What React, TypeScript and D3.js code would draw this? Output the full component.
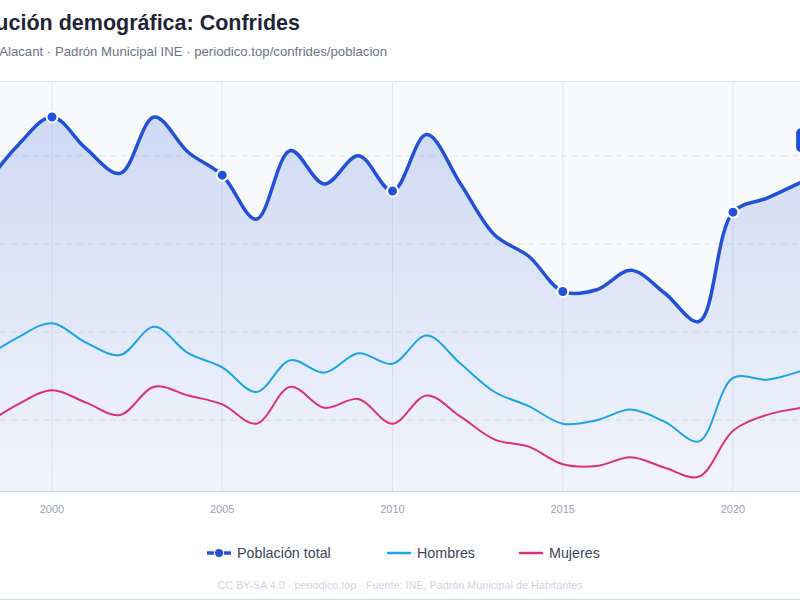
import * as d3 from "d3";
import React, { useEffect, useRef } from "react";

// Padrón municipal, Confrides
const years = [
  1998, 1999, 2000, 2001, 2002, 2003, 2004, 2005, 2006, 2007, 2008, 2009, 2010,
  2011, 2012, 2013, 2014, 2015, 2016, 2017, 2018, 2019, 2020, 2021, 2022,
];
const hombres = [
  135, 147, 155, 144, 137, 153, 138, 130, 116, 134, 127, 138, 132, 148, 132,
  116, 108, 98, 100, 106, 99, 88, 124, 123, 128,
];
const mujeres = [
  97, 109, 117, 110, 103, 119, 114, 109, 98, 119, 107, 112, 98, 114, 102, 89,
  85, 75, 74, 79, 73, 68, 94, 103, 107,
];
const total = [
  232, 256, 272, 254, 240, 272, 252, 239, 214, 253, 234, 250, 230, 262, 234,
  205, 193, 173, 174, 185, 172, 156, 218, 226, 235,
];
const xTicks = [2000, 2005, 2010, 2015, 2020];
const yTicks = [100, 150, 200, 250];

const BLUE = "#2250d6";
const CYAN = "#1ba4e4";
const PINK = "#d9317a";
const FONT = "'Liberation Sans', Arial, sans-serif";

const App: React.FC = () => {
  const svgRef = useRef<SVGSVGElement | null>(null);

  useEffect(() => {
    const width = 800;
    const height = 600;
    const top = 81;
    const bottom = 491;

    const svg = d3.select(svgRef.current);
    svg.selectAll("*").remove();
    svg.attr("width", width).attr("height", height);

    svg.append("rect").attr("width", width).attr("height", height).attr("fill", "#ffffff");

    const x = d3.scaleLinear().domain([2000, 2020]).range([52, 733]);
    const yMin = d3.min(mujeres)! * 0.88;
    const yMax = d3.max(total)! * 1.075;
    const y = d3.scaleLinear().domain([yMin, yMax]).range([bottom, top]);

    // plot background
    svg
      .append("rect")
      .attr("x", 0)
      .attr("y", top)
      .attr("width", width)
      .attr("height", bottom - top)
      .attr("fill", "#f8f9fc");
    svg
      .append("line")
      .attr("x1", 0)
      .attr("x2", width)
      .attr("y1", top + 0.5)
      .attr("y2", top + 0.5)
      .attr("stroke", "#d8dee8");

    const defs = svg.append("defs");
    const grad = defs
      .append("linearGradient")
      .attr("id", "areaGrad")
      .attr("gradientUnits", "userSpaceOnUse")
      .attr("x1", 0)
      .attr("x2", 0)
      .attr("y1", top)
      .attr("y2", bottom);
    grad.append("stop").attr("offset", "0%").attr("stop-color", BLUE).attr("stop-opacity", 0.2);
    grad.append("stop").attr("offset", "100%").attr("stop-color", BLUE).attr("stop-opacity", 0.03);

    // vertical grid
    svg
      .append("g")
      .selectAll("line")
      .data(xTicks)
      .enter()
      .append("line")
      .attr("x1", (d) => x(d))
      .attr("x2", (d) => x(d))
      .attr("y1", top)
      .attr("y2", bottom)
      .attr("stroke", "#e3e7ee")
      .attr("stroke-width", 1);

    // horizontal dashed grid
    svg
      .append("g")
      .selectAll("line")
      .data(yTicks)
      .enter()
      .append("line")
      .attr("x1", 0)
      .attr("x2", width)
      .attr("y1", (d) => y(d))
      .attr("y2", (d) => y(d))
      .attr("stroke", "#dde2ea")
      .attr("stroke-dasharray", "6,5");

    const curve = d3.curveCatmullRom.alpha(0.5);
    const pts = (vals: number[]) => years.map((yr, i) => [yr, vals[i]] as [number, number]);

    const area = d3
      .area<[number, number]>()
      .x((d) => x(d[0]))
      .y0(bottom)
      .y1((d) => y(d[1]))
      .curve(curve);
    const line = d3
      .line<[number, number]>()
      .x((d) => x(d[0]))
      .y((d) => y(d[1]))
      .curve(curve);

    svg.append("path").attr("d", area(pts(total))!).attr("fill", "url(#areaGrad)");

    svg
      .append("path")
      .attr("d", line(pts(hombres))!)
      .attr("fill", "none")
      .attr("stroke", CYAN)
      .attr("stroke-width", 2);
    svg
      .append("path")
      .attr("d", line(pts(mujeres))!)
      .attr("fill", "none")
      .attr("stroke", PINK)
      .attr("stroke-width", 2);
    svg
      .append("path")
      .attr("d", line(pts(total))!)
      .attr("fill", "none")
      .attr("stroke", BLUE)
      .attr("stroke-width", 3.5)
      .attr("stroke-linejoin", "round");

    // markers every five years
    svg
      .append("g")
      .selectAll("circle")
      .data(years.map((yr, i) => ({ yr, v: total[i] })).filter((d) => d.yr % 5 === 0))
      .enter()
      .append("circle")
      .attr("cx", (d) => x(d.yr))
      .attr("cy", (d) => y(d.v))
      .attr("r", 5.5)
      .attr("fill", BLUE)
      .attr("stroke", "#ffffff")
      .attr("stroke-width", 2);

    // last value badge
    const lastYr = years[years.length - 1];
    const lastV = total[total.length - 1];
    const badge = svg
      .append("g")
      .attr("transform", `translate(${x(lastYr) - 5}, ${y(lastV) - 54})`);
    badge.append("rect").attr("width", 56).attr("height", 24).attr("rx", 5).attr("fill", BLUE);
    badge
      .append("text")
      .attr("x", 28)
      .attr("y", 16.5)
      .attr("text-anchor", "middle")
      .attr("font-family", FONT)
      .attr("font-size", "13px")
      .attr("font-weight", "bold")
      .attr("fill", "#ffffff")
      .text(lastV);

    // x axis
    svg
      .append("line")
      .attr("x1", 0)
      .attr("x2", width)
      .attr("y1", bottom + 0.5)
      .attr("y2", bottom + 0.5)
      .attr("stroke", "#cfd6e0");
    svg
      .append("g")
      .selectAll("text")
      .data(xTicks)
      .enter()
      .append("text")
      .attr("x", (d) => x(d))
      .attr("y", bottom + 22)
      .attr("text-anchor", "middle")
      .attr("font-family", FONT)
      .attr("font-size", "11px")
      .attr("fill", "#98a2b3")
      .text((d) => d);

    // title + subtitle
    svg
      .append("text")
      .attr("x", 300)
      .attr("y", 30)
      .attr("text-anchor", "end")
      .attr("font-family", FONT)
      .attr("font-size", "21.5px")
      .attr("font-weight", "bold")
      .attr("fill", "#1e2537")
      .text("Evolución demográfica: Confrides");
    svg
      .append("text")
      .attr("x", 387)
      .attr("y", 56)
      .attr("text-anchor", "end")
      .attr("font-family", FONT)
      .attr("font-size", "13.2px")
      .attr("fill", "#6b7385")
      .text("Marina Baixa, Alacant · Padrón Municipal INE · periodico.top/confrides/poblacion");

    // legend
    const legendY = 553;
    const legend = svg.append("g").attr("font-family", FONT).attr("font-size", "14.3px");
    const lt = legend.append("g").attr("transform", `translate(207, ${legendY})`);
    lt.append("line").attr("x1", 0).attr("x2", 7).attr("stroke", BLUE).attr("stroke-width", 3.5);
    lt.append("line").attr("x1", 17).attr("x2", 24).attr("stroke", BLUE).attr("stroke-width", 3.5);
    lt.append("circle").attr("cx", 12).attr("r", 4).attr("fill", BLUE);
    lt.append("text").attr("x", 30).attr("y", 5).attr("fill", "#3d4556").text("Población total");

    const lh = legend.append("g").attr("transform", `translate(387, ${legendY})`);
    lh.append("line").attr("x1", 0).attr("x2", 24).attr("stroke", CYAN).attr("stroke-width", 2.5);
    lh.append("text").attr("x", 30).attr("y", 5).attr("fill", "#3d4556").text("Hombres");

    const lm = legend.append("g").attr("transform", `translate(519, ${legendY})`);
    lm.append("line").attr("x1", 0).attr("x2", 24).attr("stroke", PINK).attr("stroke-width", 2.5);
    lm.append("text").attr("x", 30).attr("y", 5).attr("fill", "#3d4556").text("Mujeres");

    // footer
    svg
      .append("text")
      .attr("x", 400)
      .attr("y", 589)
      .attr("text-anchor", "middle")
      .attr("font-family", FONT)
      .attr("font-size", "10.8px")
      .attr("fill", "#cfd5e0")
      .text("CC BY-SA 4.0 · periodico.top · Fuente: INE, Padrón Municipal de Habitantes");
    svg
      .append("line")
      .attr("x1", 0)
      .attr("x2", width)
      .attr("y1", 599.5)
      .attr("y2", 599.5)
      .attr("stroke", "#d5dbe4");
  }, []);

  return (
    <div style={{ position: "absolute", left: 0, top: 0 }}>
      <svg ref={svgRef} style={{ display: "block" }}></svg>
    </div>
  );
};

export default App;
